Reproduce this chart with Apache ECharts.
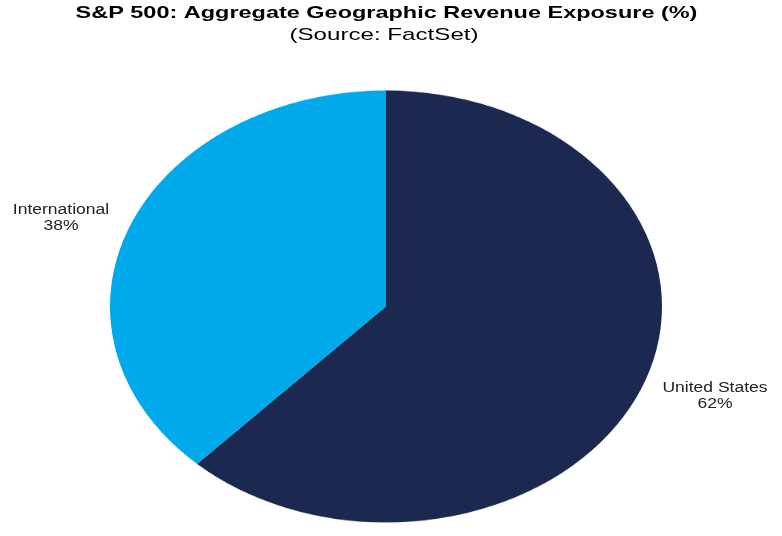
<!DOCTYPE html>
<html>
<head>
<meta charset="utf-8">
<script src="https://cdn.jsdelivr.net/npm/echarts@6/dist/echarts.min.js"></script>
<style>
  html, body { margin: 0; padding: 0; width: 782px; height: 536px; overflow: hidden; background: #fff; }
  #pie { position: absolute; left: 0; top: 0; width: 782px; height: 782px; transform-origin: 0 0; transform: scaleY(0.7826); }
  #over { position: absolute; left: 0; top: 0; width: 782px; height: 536px; }
</style>
</head>
<body>
<div id="pie"></div>
<div id="over"></div>
<script>
const categories = ['United States', 'International'];
const values = [62, 38];
const colors = ['#1B2850', '#00AAEA'];
const titleText = 'S&P 500: Aggregate Geographic Revenue Exposure (%)';
const subtitleText = '(Source: FactSet)';

const pieChart = echarts.init(document.getElementById('pie'), null, { renderer: 'canvas' });
pieChart.setOption({
  animation: false,
  series: [{
    type: 'pie',
    center: [386, 391.6],
    radius: [0, 276],
    startAngle: 90,
    clockwise: true,
    label: { show: false },
    labelLine: { show: false },
    itemStyle: { borderWidth: 0 },
    emphasis: { disabled: true },
    data: categories.map((c, i) => ({ name: c, value: values[i], itemStyle: { color: colors[i] } }))
  }]
});

const labelPos = [[715, 396], [61, 218]];
const over = echarts.init(document.getElementById('over'));
const textEls = [
  {
    type: 'text', x: 386.5, y: 13, scaleX: 1.38,
    style: { text: titleText, fontFamily: 'Liberation Sans', fontWeight: 'bold', fontSize: 17, fill: '#000', align: 'center', verticalAlign: 'middle' }
  },
  {
    type: 'text', x: 384, y: 35, scaleX: 1.42,
    style: { text: subtitleText, fontFamily: 'Liberation Sans', fontSize: 17, fill: '#000', align: 'center', verticalAlign: 'middle' }
  }
].concat(categories.map((c, i) => ({
  type: 'text',
  x: labelPos[i][0],
  y: labelPos[i][1],
  scaleX: 1.25,
  style: {
    text: c + '\n' + values[i] + '%',
    fontFamily: 'Liberation Sans',
    fontSize: 14,
    lineHeight: 16,
    fill: '#222',
    align: 'center',
    verticalAlign: 'middle'
  }
})));
over.setOption({
  animation: false,
  graphic: textEls
});
</script>
</body>
</html>
